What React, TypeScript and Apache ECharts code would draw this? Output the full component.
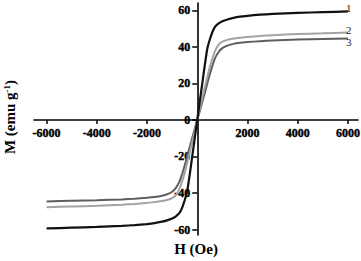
import React, { useEffect, useRef } from "react";
import * as echarts from "echarts";

const fieldH = [-6000, -5000, -4000, -3000, -2500, -2000, -1700, -1400, -1200, -1000, -850, -700, -600, -500, -400, -300, -200, -100, 0, 100, 200, 300, 400, 500, 600, 700, 850, 1000, 1200, 1400, 1700, 2000, 2500, 3000, 4000, 5000, 6000];
const sample1 = [-59.4, -59, -58.6, -58, -57.6, -57, -56.5, -55.7, -55, -54, -52.8, -50.8, -48, -44, -39, -30, -20, -10, 0, 10, 20, 30, 39, 44, 48, 50.8, 52.8, 54, 55, 55.7, 56.5, 57, 57.6, 58, 58.6, 59, 59.4];
const sample2 = [-47.8, -47.4, -47, -46.4, -46, -45.4, -45, -44.4, -43.8, -42.8, -41.2, -37.5, -33.5, -29, -23.5, -18, -12, -6, 0, 6, 12, 18, 23.5, 29, 33.5, 37.5, 41.2, 42.8, 43.8, 44.4, 45, 45.4, 46, 46.4, 47, 47.4, 47.8];
const sample3 = [-44.6, -44.3, -44, -43.5, -43.1, -42.6, -42.2, -41.5, -40.7, -39.3, -37.2, -33.5, -29.5, -25, -20, -14.8, -9.8, -4.8, 0, 4.8, 9.8, 14.8, 20, 25, 29.5, 33.5, 37.2, 39.3, 40.7, 41.5, 42.2, 42.6, 43.1, 43.5, 44, 44.3, 44.6];
const seriesNames = ["1", "2", "3"];
const xTicks = [-6000, -4000, -2000, 2000, 4000, 6000];
const yTicks = [-60, -40, -20, 0, 20, 40, 60];

const FONT = "Liberation Serif";

export default function App() {
  const ref = useRef<HTMLDivElement>(null);
  useEffect(() => {
    if (!ref.current) return;
    const chart = echarts.init(ref.current, null, { renderer: "svg" });
    const mk = (vals: number[]) => fieldH.map((h, i) => [h, vals[i]]);
    const colors = ["#111111", "#a3a3a3", "#5e5e5e"];
    const offsets = [[-3, -3], [-3, -2.5], [-3, 4]];
    const all = [sample1, sample2, sample3];
    const gl = 34, gr = 3, gt = 3, gb = 26;
    const xMin = -6500, xMax = 6400, yMin = -63, yMax = 64;
    const gw = 361 - gl - gr, gh = 261 - gt - gb;
    const zeroX = gl + (gw * (0 - xMin)) / (xMax - xMin);
    const zeroY = gt + (gh * yMax) / (yMax - yMin);
    const labelStyle = {
      margin: 7,
      color: "#000000",
      fontFamily: FONT,
      fontWeight: 700,
      fontSize: 12,
      textBorderColor: "#000000",
      textBorderWidth: 0.4,
    };
    chart.setOption({
      animation: false,
      backgroundColor: "#ffffff",
      textStyle: { fontFamily: FONT, fontWeight: 700, color: "#000" },
      grid: { left: gl, right: gr, top: gt, bottom: gb, containLabel: false, outerBoundsMode: "none" },
      xAxis: {
        type: "value",
        min: xMin,
        max: xMax,
        position: "bottom",
        offset: zeroY - (gt + gh),
        splitLine: { show: false },
        axisLine: { onZero: false, lineStyle: { color: "#000", width: 1.6 } },
        axisTick: { show: true, length: 4, customValues: xTicks, lineStyle: { color: "#000", width: 1.5 } },
        axisLabel: { customValues: xTicks, formatter: (v: number) => String(v), ...labelStyle },
      },
      yAxis: {
        type: "value",
        min: yMin,
        max: yMax,
        position: "left",
        offset: gl - zeroX,
        splitLine: { show: false },
        axisLine: { onZero: false, lineStyle: { color: "#000", width: 1.6 } },
        axisTick: { show: true, length: 5, customValues: yTicks, lineStyle: { color: "#000", width: 1.5 } },
        axisLabel: { customValues: yTicks, formatter: (v: number) => String(v), ...labelStyle },
      },
      series: all.map((vals, i) => ({
        name: seriesNames[i],
        type: "line",
        data: mk(vals),
        showSymbol: false,
        smooth: 0.15,
        lineStyle: { color: colors[i], width: i === 0 ? 2.2 : 2 },
        z: 3 - i,
        endLabel: {
          show: true,
          formatter: seriesNames[i],
          offset: offsets[i],
          distance: 1,
          color: "#222222",
          fontFamily: FONT,
          fontWeight: 400,
          fontSize: 11,
        },
      })),
      graphic: [
        {
          type: "text",
          x: 10,
          y: 117,
          rotation: Math.PI / 2,
          style: {
            text: "{a|M (emu g}{s|-1}{a|)}",
            align: "center",
            verticalAlign: "middle",
            rich: {
              a: { fontFamily: FONT, fontWeight: "bold", fontSize: 15, fill: "#000", lineHeight: 16 },
              s: { fontFamily: FONT, fontWeight: "bold", fontSize: 9, fill: "#000", verticalAlign: "top", lineHeight: 16 },
            },
          },
        },
        {
          type: "text",
          x: 196,
          y: 249,
          style: {
            text: "H (Oe)",
            align: "center",
            verticalAlign: "middle",
            fontFamily: FONT,
            fontWeight: "bold",
            fontSize: 15,
            fill: "#000",
          },
        },
      ],
    });
    return () => chart.dispose();
  }, []);
  return <div ref={ref} style={{ position: "fixed", left: 0, top: 0, width: 361, height: 261 }} />;
}
